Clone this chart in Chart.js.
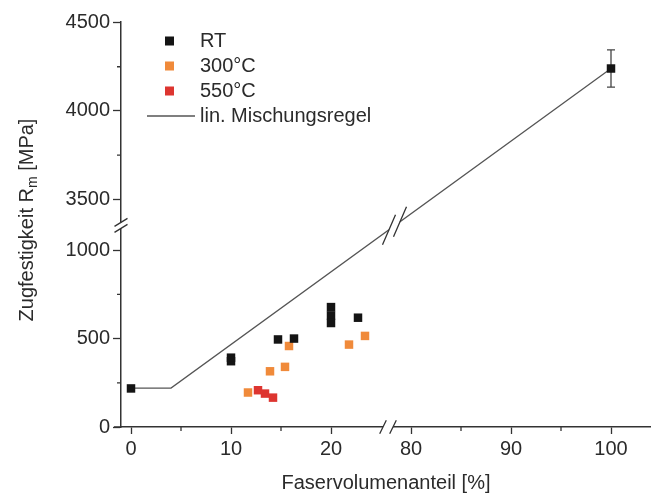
<!DOCTYPE html>
<html>
<head>
<meta charset="utf-8">
<script src="https://cdn.jsdelivr.net/npm/chart.js@4.4.1/dist/chart.umd.min.js"></script>
<style>
  html, body { margin: 0; padding: 0; background: #fff; }
  #wrap { width: 651px; height: 495px; }
</style>
</head>
<body>
<div id="wrap"><canvas id="myChart" width="651" height="495"></canvas></div>
<script>
// values (x = Faservolumenanteil %, y = Rm MPa)
const rtX = [0, 10, 10, 14.7, 16.3, 20, 20, 20, 22.7, 100];
const rtY = [218, 372, 392, 495, 500, 678, 631, 588, 618, 4240];
const t300X = [11.7, 13.9, 15.4, 15.8, 21.8, 23.4];
const t300Y = [195, 315, 340, 458, 466, 515];
const t550X = [12.7, 13.4, 14.2];
const t550Y = [208, 189, 166];
const mixX = [0, 4, 100];
const mixY = [220, 220, 4240];
const errX = [100];
const errLow = [4135];
const errHigh = [4345];

const xTicks = [0, 10, 20, 80, 90, 100];
const xMinor = [5, 15, 85, 95];
const yTicks = [0, 500, 1000, 3500, 4000, 4500];
const yMinor = [250, 750, 3750, 4250];
const legendLabels = ['RT', '300°C', '550°C', 'lin. Mischungsregel'];

// broken axes: 26..78 removed on x, 1140..3353 removed on y
const toU = x => x <= 50 ? x : x - 52;
const fromU = u => u <= 26 ? u : u + 52;
const toV = y => y <= 2000 ? y : y - 2213;
const fromV = v => v <= 1140 ? v : v + 2213;
const pts = (xs, ys) => xs.map((x, i) => ({x: toU(x), y: toV(ys[i])}));

const ink = '#2b2b2b';
const font = 'Liberation Sans, Arial, sans-serif';
const colors = ['#141414', '#f08a3a', '#dd3530'];

const breaks = {
    id: 'breaks',
    beforeDatasetsDraw(chart) {
        const c = chart.ctx, xs = chart.scales.x, ys = chart.scales.y;
        c.save();
        c.strokeStyle = '#444';
        c.lineWidth = 1.3;
        errX.forEach((x, i) => {
            const px = xs.getPixelForValue(toU(x));
            const top = ys.getPixelForValue(toV(errHigh[i]));
            const bot = ys.getPixelForValue(toV(errLow[i]));
            c.beginPath();
            c.moveTo(px, top); c.lineTo(px, bot);
            c.moveTo(px - 4, top); c.lineTo(px + 4, top);
            c.moveTo(px - 4, bot); c.lineTo(px + 4, bot);
            c.stroke();
        });
        c.restore();
    },
    afterDraw(chart) {
        const c = chart.ctx, xs = chart.scales.x, ys = chart.scales.y;
        const area = chart.chartArea;
        c.save();
        c.strokeStyle = '#333';
        c.lineWidth = 1.3;
        // minor ticks
        c.beginPath();
        xMinor.forEach(v => {
            const px = xs.getPixelForValue(toU(v));
            c.moveTo(px, area.bottom); c.lineTo(px, area.bottom + 4);
        });
        yMinor.forEach(v => {
            const py = ys.getPixelForValue(toV(v));
            c.moveTo(area.left, py); c.lineTo(area.left - 4, py);
        });
        // x axis reaches a bit left of the y axis
        c.moveTo(area.left - 7, area.bottom); c.lineTo(area.left, area.bottom);
        c.stroke();

        // x axis break
        const bx = xs.getPixelForValue(25.7), by = area.bottom;
        c.fillStyle = '#fff';
        c.fillRect(bx - 5, by - 2, 10, 4);
        c.beginPath();
        [-5, 5].forEach(d => { c.moveTo(bx + d - 3.3, by + 6.7); c.lineTo(bx + d + 3.3, by - 6.7); });
        c.stroke();

        // y axis break
        const yx = area.left, yy = ys.getPixelForValue(1140);
        c.fillRect(yx - 2, yy - 3, 4, 6);
        c.beginPath();
        [-3, 3].forEach(d => { c.moveTo(yx - 6.5, yy + d + 4); c.lineTo(yx + 6.5, yy + d - 4); });
        c.stroke();

        // break on the mixing rule line
        const meta = chart.getDatasetMeta(3).data;
        const p1 = meta[1], p2 = meta[2];
        const onLine = u => {
            const px = xs.getPixelForValue(u);
            const t = (px - p1.x) / (p2.x - p1.x);
            return {x: px, y: p1.y + t * (p2.y - p1.y)};
        };
        const a = onLine(25.8), b = onLine(26.9);
        c.strokeStyle = '#fff';
        c.lineWidth = 4;
        c.beginPath(); c.moveTo(a.x, a.y); c.lineTo(b.x, b.y); c.stroke();
        c.strokeStyle = '#333';
        c.lineWidth = 1.3;
        c.beginPath();
        [a, b].forEach(p => { c.moveTo(p.x - 6.5, p.y + 15); c.lineTo(p.x + 6.5, p.y - 15); });
        c.stroke();

        // legend
        c.font = '20px ' + font;
        c.textBaseline = 'middle';
        c.textAlign = 'left';
        const rows = [41, 66, 91, 116];
        colors.forEach((col, i) => {
            c.fillStyle = col;
            c.fillRect(165, rows[i] - 4.5, 9, 9);
        });
        c.strokeStyle = '#555';
        c.lineWidth = 1.3;
        c.beginPath(); c.moveTo(147, rows[3]); c.lineTo(195, rows[3]); c.stroke();
        c.fillStyle = ink;
        legendLabels.forEach((t, i) => c.fillText(t, 200, rows[i]));

        // y title with subscript
        c.translate(26, 220);
        c.rotate(-Math.PI / 2);
        const big = '20px ' + font, small = '14px ' + font;
        const p1t = 'Zugfestigkeit R', sub = 'm', p3t = ' [MPa]';
        c.font = big; const w1 = c.measureText(p1t).width, w3 = c.measureText(p3t).width;
        c.font = small; const w2 = c.measureText(sub).width;
        let x0 = -(w1 + w2 + w3) / 2;
        c.textBaseline = 'alphabetic';
        c.font = big; c.fillText(p1t, x0, 7);
        c.font = small; c.fillText(sub, x0 + w1, 11);
        c.font = big; c.fillText(p3t, x0 + w1 + w2, 7);
        c.restore();
    }
};

const ctx = document.getElementById('myChart').getContext('2d');
const myChart = new Chart(ctx, {
    type: 'scatter',
    data: {
        datasets: [
            {label: 'RT', data: pts(rtX, rtY), backgroundColor: colors[0], borderColor: colors[0]},
            {label: '300°C', data: pts(t300X, t300Y), backgroundColor: colors[1], borderColor: colors[1]},
            {label: '550°C', data: pts(t550X, t550Y), backgroundColor: colors[2], borderColor: colors[2]},
            {label: 'lin. Mischungsregel', data: pts(mixX, mixY), showLine: true, pointRadius: 0,
             borderColor: '#555', borderWidth: 1.3, order: 5}
        ]
    },
    options: {
        responsive: false,
        animation: false,
        layout: {autoPadding: false, padding: {top: 22, right: 0, bottom: 0, left: 0}},
        elements: {point: {pointStyle: 'rect', radius: 6, borderWidth: 0}},
        plugins: {legend: {display: false}, tooltip: {enabled: false}},
        scales: {
            x: {
                type: 'linear', min: -1, max: 52,
                afterBuildTicks: s => { s.ticks = xTicks.map(v => ({value: toU(v)})); },
                afterFit: s => { s.height = 68; },
                ticks: {callback: v => String(Math.round(fromU(v))), color: ink, font: {size: 20, family: font}, padding: 3, maxRotation: 0, autoSkip: false},
                grid: {drawOnChartArea: false, drawTicks: true, tickLength: 7, tickColor: '#333', tickWidth: 1.3},
                border: {color: '#333', width: 1.5},
                title: {display: true, text: 'Faservolumenanteil [%]', color: ink, font: {size: 20, family: font}, padding: {top: 0, bottom: 0}}
            },
            y: {
                type: 'linear', min: 0, max: 2290,
                afterBuildTicks: s => { s.ticks = yTicks.map(v => ({value: toV(v)})); },
                afterFit: s => { s.width = 121; },
                ticks: {callback: v => String(Math.round(fromV(v))), color: ink, font: {size: 20, family: font}, padding: 3, autoSkip: false},
                grid: {drawOnChartArea: false, drawTicks: true, tickLength: 8, tickColor: '#333', tickWidth: 1.3},
                border: {color: '#333', width: 1.5}
            }
        }
    },
    plugins: [breaks]
});
</script>
</body>
</html>
